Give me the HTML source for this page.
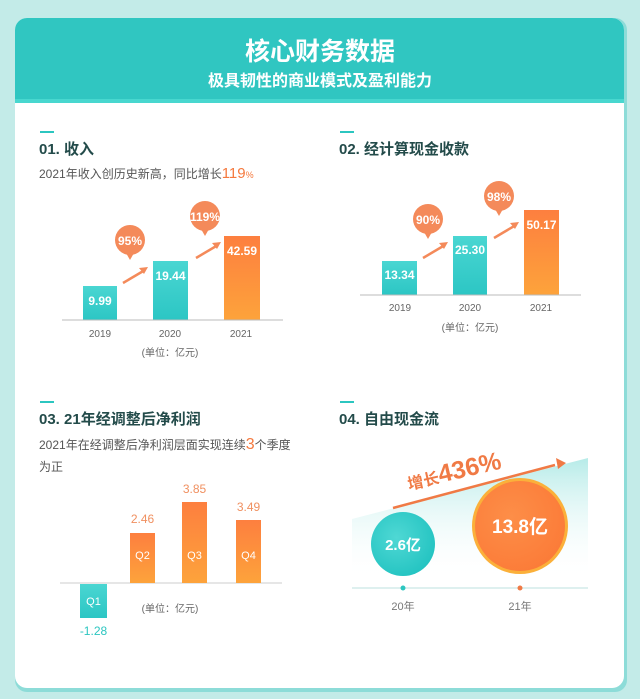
<!DOCTYPE html>
<html><head><meta charset="utf-8"><style>
body{margin:0;background:#c3ebe8;}
svg{display:block}
text{font-family:"Liberation Sans","Noto Sans CJK SC",sans-serif}
</style></head><body>
<svg width="640" height="699" viewBox="0 0 640 699" xmlns="http://www.w3.org/2000/svg">
<defs>
<linearGradient id="tb" x1="0" y1="0" x2="0" y2="1"><stop offset="0" stop-color="#4ad6d2"/><stop offset="1" stop-color="#2cc6c4"/></linearGradient>
<linearGradient id="ob" x1="0" y1="0" x2="0" y2="1"><stop offset="0" stop-color="#fd7f3f"/><stop offset="1" stop-color="#fda33b"/></linearGradient>
<linearGradient id="wedge" x1="0" y1="0" x2="0" y2="1"><stop offset="0" stop-color="#b6ebe8"/><stop offset="1" stop-color="#ffffff" stop-opacity="0"/></linearGradient>
<radialGradient id="cg" cx="0.4" cy="0.4" r="0.7"><stop offset="0" stop-color="#4fd8d4"/><stop offset="1" stop-color="#20c2c0"/></radialGradient>
<radialGradient id="og" cx="0.4" cy="0.4" r="0.7"><stop offset="0" stop-color="#fd8e48"/><stop offset="1" stop-color="#fb7a37"/></radialGradient>
</defs>
<rect x="0" y="0" width="640" height="699" fill="#c3ebe8"/>
<rect x="15" y="18" width="612" height="674" rx="12" fill="#8ddcd8"/>
<rect x="15" y="18" width="609" height="670" rx="12" fill="#ffffff"/>
<path d="M15 30 a12 12 0 0 1 12 -12 h585 a12 12 0 0 1 12 12 v72 h-609z" fill="#30c6c1"/>
<rect x="15" y="99" width="609" height="4" fill="#48d7cf"/>
<text x="320" y="60" text-anchor="middle" font-size="25" font-weight="bold" fill="#fff">核心财务数据</text>
<text x="320" y="86" text-anchor="middle" font-size="16" font-weight="bold" fill="#fff">极具韧性的商业模式及盈利能力</text>

<!-- section 1 -->
<rect x="40" y="131" width="14" height="2" fill="#2cc6c0"/>
<text x="39" y="154" font-size="15" font-weight="bold" fill="#234b4a">01. 收入</text>
<text x="39" y="178" font-size="12" fill="#555">2021年收入创历史新高，同比增长<tspan fill="#f5793e" font-size="15">119</tspan><tspan fill="#f5793e" font-size="9">%</tspan></text>
<rect x="83" y="286" width="34" height="34" fill="url(#tb)"/>
<rect x="153" y="261" width="35" height="59" fill="url(#tb)"/>
<rect x="224" y="236" width="36" height="84" fill="url(#ob)"/>
<line x1="62" y1="320" x2="283" y2="320" stroke="#bbb" stroke-width="1"/>
<g font-size="12" font-weight="bold" fill="#fff" text-anchor="middle">
<text x="100" y="305">9.99</text><text x="170.5" y="280">19.44</text><text x="242" y="255">42.59</text></g>
<g font-size="10" fill="#666" text-anchor="middle"><text x="100" y="337">2019</text><text x="170" y="337">2020</text><text x="241" y="337">2021</text><text x="170" y="356">(单位：亿元)</text></g>
<path d="M123 283 L145 270" stroke="#f48a5a" stroke-width="2.5"/><path d="M148 267 l-9 1 l5 6z" fill="#f48a5a"/>
<path d="M196 258 L218 245" stroke="#f48a5a" stroke-width="2.5"/><path d="M221 242 l-9 1 l5 6z" fill="#f48a5a"/>
<circle cx="130" cy="240" r="15" fill="#f48a5a"/><path d="M126 253 l4 7 l4 -7z" fill="#f48a5a"/>
<circle cx="205" cy="216" r="15" fill="#f48a5a"/><path d="M201 229 l4 7 l4 -7z" fill="#f48a5a"/>
<g font-size="12" font-weight="bold" fill="#fff" text-anchor="middle"><text x="130" y="245">95%</text><text x="205" y="221">119%</text></g>

<!-- section 2 -->
<rect x="340" y="131" width="14" height="2" fill="#2cc6c0"/>
<text x="339" y="154" font-size="15" font-weight="bold" fill="#234b4a">02. 经计算现金收款</text>
<rect x="382" y="261" width="35" height="34" fill="url(#tb)"/>
<rect x="453" y="236" width="34" height="59" fill="url(#tb)"/>
<rect x="524" y="210" width="35" height="85" fill="url(#ob)"/>
<line x1="360" y1="295" x2="581" y2="295" stroke="#bbb" stroke-width="1"/>
<g font-size="12" font-weight="bold" fill="#fff" text-anchor="middle">
<text x="399.5" y="279">13.34</text><text x="470" y="254">25.30</text><text x="541.5" y="229">50.17</text></g>
<g font-size="10" fill="#666" text-anchor="middle"><text x="400" y="311">2019</text><text x="470" y="311">2020</text><text x="541" y="311">2021</text><text x="470" y="331">(单位：亿元)</text></g>
<path d="M423 258 L445 245" stroke="#f48a5a" stroke-width="2.5"/><path d="M448 242 l-9 1 l5 6z" fill="#f48a5a"/>
<path d="M494 238 L516 225" stroke="#f48a5a" stroke-width="2.5"/><path d="M519 222 l-9 1 l5 6z" fill="#f48a5a"/>
<circle cx="428" cy="219" r="15" fill="#f48a5a"/><path d="M424 232 l4 7 l4 -7z" fill="#f48a5a"/>
<circle cx="499" cy="196" r="15" fill="#f48a5a"/><path d="M495 209 l4 7 l4 -7z" fill="#f48a5a"/>
<g font-size="12" font-weight="bold" fill="#fff" text-anchor="middle"><text x="428" y="224">90%</text><text x="499" y="201">98%</text></g>

<!-- section 3 -->
<rect x="40" y="401" width="14" height="2" fill="#2cc6c0"/>
<text x="39" y="424" font-size="15" font-weight="bold" fill="#234b4a">03. 21年经调整后净利润</text>
<text x="39" y="449" font-size="12" fill="#555">2021年在经调整后净利润层面实现连续<tspan fill="#f5793e" font-size="16">3</tspan>个季度</text>
<text x="39" y="471" font-size="12" fill="#555">为正</text>
<line x1="60" y1="583" x2="282" y2="583" stroke="#ccc" stroke-width="1"/>
<rect x="80" y="584" width="27" height="34" fill="url(#tb)"/>
<rect x="130" y="533" width="25" height="50" fill="url(#ob)"/>
<rect x="182" y="502" width="25" height="81" fill="url(#ob)"/>
<rect x="236" y="520" width="25" height="63" fill="url(#ob)"/>
<g font-size="11" fill="#fff" text-anchor="middle"><text x="93.5" y="605">Q1</text><text x="142.5" y="559">Q2</text><text x="194.5" y="559">Q3</text><text x="248.5" y="559">Q4</text></g>
<g font-size="12" fill="#f09060" text-anchor="middle"><text x="142.5" y="523">2.46</text><text x="194.5" y="493">3.85</text><text x="248.5" y="511">3.49</text></g>
<text x="93.5" y="635" font-size="12" fill="#2cc6c0" text-anchor="middle">-1.28</text>
<text x="170" y="612" font-size="10" fill="#666" text-anchor="middle">(单位：亿元)</text>

<!-- section 4 -->
<rect x="340" y="401" width="14" height="2" fill="#2cc6c0"/>
<text x="339" y="424" font-size="15" font-weight="bold" fill="#234b4a">04. 自由现金流</text>
<path d="M352 519 L588 458 L588 580 L352 580z" fill="url(#wedge)"/>
<path d="M393 508 L555 465" stroke="#f07a45" stroke-width="2.5"/><path d="M556 458 l10 5 l-8 6z" fill="#f07a45"/>
<text x="409" y="490" font-size="16" font-weight="bold" fill="#f07a45" transform="rotate(-13 409 490)">增长<tspan font-size="25">436%</tspan></text>
<circle cx="403" cy="544" r="32" fill="url(#cg)"/>
<circle cx="520" cy="526" r="48" fill="#fbb03a"/>
<circle cx="520" cy="526" r="45" fill="url(#og)"/>
<text x="403" y="550" font-size="15" font-weight="bold" fill="#fff" text-anchor="middle">2.6亿</text>
<text x="520" y="533" font-size="19" font-weight="bold" fill="#fff" text-anchor="middle">13.8亿</text>
<line x1="352" y1="588" x2="588" y2="588" stroke="#c9e8e5" stroke-width="1.2"/>
<circle cx="403" cy="588" r="2.5" fill="#2cc6c0"/><circle cx="520" cy="588" r="2.5" fill="#f07a45"/>
<g font-size="11" fill="#777" text-anchor="middle"><text x="403" y="610">20年</text><text x="520" y="610">21年</text></g>
</svg>
</body></html>
